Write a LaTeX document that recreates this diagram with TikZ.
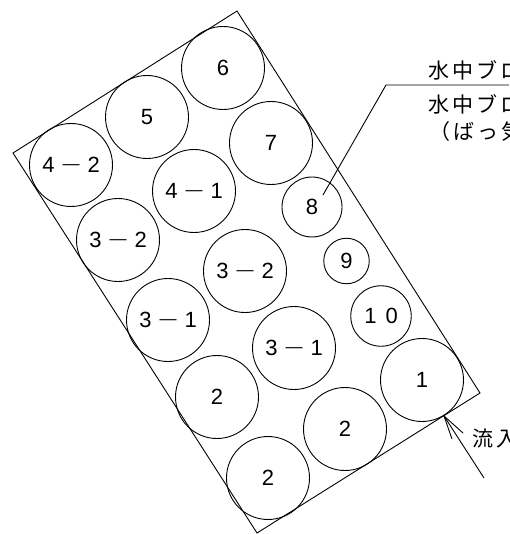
\documentclass[tikz,border=0pt]{standalone}
\usepackage{fontspec}
\setmainfont{Liberation Sans}
\newfontfamily\cjk[LetterSpace=14]{Noto Sans CJK JP}
\newcommand{\dsh}{\hspace{8pt}{\fontsize{17}{17}\selectfont\raisebox{3.5pt}{—}}\hspace{8pt}}
\begin{document}
\begin{tikzpicture}[x=1pt,y=-1pt,
  ln/.style={draw=black,line width=0.9pt},
  tank/.style={ln,line join=miter},
  blk/.style={circle,ln,inner sep=0pt,font=\fontsize{22}{22}\selectfont},
  bigblk/.style={blk,minimum size=83pt},
  lab/.style={anchor=west,inner sep=0pt,font=\cjk\fontsize{21}{21}\selectfont}]
\clip (0,0) rectangle (509,534);
\path[fill=white] (0,0) rectangle (509,534);
\coordinate (T) at (237,11);
\coordinate (L) at (13,153);
\coordinate (B) at (257,533);
\coordinate (R) at (480,393);
\draw[tank] (T) -- (L) -- (B) -- (R) -- cycle;
\node[bigblk] (c6) at (223,68) {6};
\node[bigblk] (c5) at (147,117) {5};
\node[bigblk] (c42) at (71,165) {4\dsh 2};
\node[bigblk] (c7) at (271,143) {7};
\node[bigblk] (c41) at (194,191) {4\dsh 1};
\node[bigblk] (c32a) at (118,240) {3\dsh 2};
\node[blk,minimum size=60pt] (c8) at (312,207) {8};
\node[bigblk] (c32b) at (245,271) {3\dsh 2};
\node[bigblk] (c31a) at (168,320) {3\dsh 1};
\node[blk,minimum size=45.5pt] (c9) at (346.5,261) {9};
\node[blk,minimum size=60.5pt] (c10) at (381,316) {1\hspace{9pt}0};
\node[bigblk] (c31b) at (294,348) {3\dsh 1};
\node[bigblk] (c1) at (422,380) {1};
\node[bigblk] (c2a) at (217,397) {2};
\node[bigblk] (c2b) at (345,429) {2};
\node[bigblk] (c2c) at (268,478) {2};
% leader
\coordinate (k) at (386,85);
\coordinate (e) at (509,85);
\coordinate (p) at (323,195);
\draw[ln] (p) -- (k) -- (e);
\node[lab] (t1) at (428,70) {水中ブロ};
\node[lab] (t2) at (428,104) {水中ブロ};
\node[lab] (t3) at (429,132) {（ばっ気};
% inflow arrow
\coordinate (tip) at (444,416);
\coordinate (tail) at (484,478);
\coordinate (b1) at (463,433);
\coordinate (b2) at (452,439);
\draw[ln] (tail) -- (tip);
\draw[ln] (b1) -- (tip) -- (b2);
\node[lab] (t4) at (472,438) {流入};
\end{tikzpicture}
\end{document}
